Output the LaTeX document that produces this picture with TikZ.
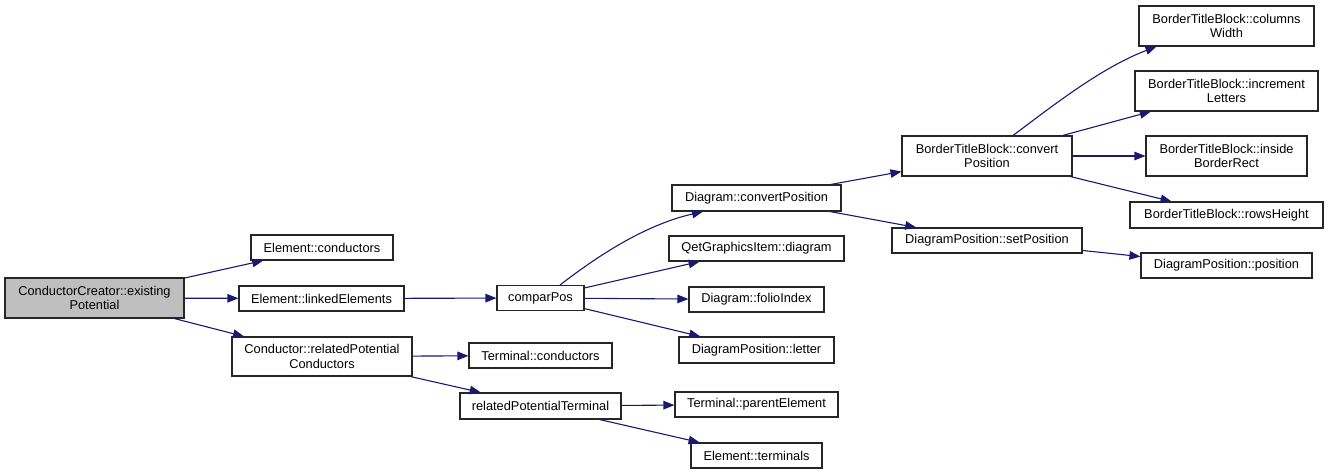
\documentclass[tikz,border=0pt]{standalone}
\usepackage{fontspec}
\setmainfont{Liberation Sans}
\usetikzlibrary{arrows.meta,calc}
\definecolor{edgeblue}{RGB}{25,25,112}
\definecolor{boxgray}{RGB}{191,191,191}
\begin{document}
\begin{tikzpicture}[x=1pt,y=-1pt,
  fn/.style={draw=black!85,line width=1.1pt,fill=white,inner sep=0pt,align=center,
    font=\fontsize{12.8}{14.3}\selectfont},
  root/.style={fill=boxgray},
  call/.style={draw=edgeblue,line width=1.1pt,-{Triangle[length=11pt,width=8.5pt]}}]
\useasboundingbox[fill=white] (0,0) rectangle (1328,474);
\newcommand\fnode[7][]{\node[fn,#1,minimum width=#5pt,minimum height=#6pt] (#2) at (#3,#4) {#7};}
\fnode[root]{cc}{94.5}{298}{179}{40}{ConductorCreator::existing\\Potential}
\fnode{ec}{322}{247.5}{142}{25}{Element::conductors}
\fnode{le}{321.5}{298.5}{165}{25}{Element::linkedElements}
\fnode{rpc}{322}{356.5}{180}{39}{Conductor::relatedPotential\\Conductors}
\fnode{cp}{540.5}{298}{87}{25}{comparPos}
\fnode{tc}{540.5}{355.5}{143}{25}{Terminal::conductors}
\fnode{rpt}{540.5}{406}{161}{26}{relatedPotentialTerminal}
\fnode{dcp}{756.5}{198}{169}{26}{Diagram::convertPosition}
\fnode{qgi}{756.5}{248.5}{175}{25}{QetGraphicsItem::diagram}
\fnode{fi}{756.5}{299.5}{135}{25}{Diagram::folioIndex}
\fnode{dpl}{756.5}{350}{155}{26}{DiagramPosition::letter}
\fnode{tpe}{756.5}{404.5}{163}{25}{Terminal::parentElement}
\fnode{et}{756.5}{455.5}{131}{25}{Element::terminals}
\fnode{bcp}{987}{156}{170}{40}{BorderTitleBlock::convert\\Position}
\fnode{dsp}{987}{240.5}{190}{25}{DiagramPosition::setPosition}
\fnode{bcw}{1226.5}{26}{175}{40}{BorderTitleBlock::columns\\Width}
\fnode{bil}{1226.5}{91}{183}{40}{BorderTitleBlock::increment\\Letters}
\fnode{bib}{1226.5}{156}{161}{40}{BorderTitleBlock::inside\\BorderRect}
\fnode{brh}{1226.5}{215}{193}{26}{BorderTitleBlock::rowsHeight}
\fnode{dpp}{1226.5}{265.5}{171}{25}{DiagramPosition::position}
\draw[call] (cc) -- (ec);
\draw[call] (cc) -- (le);
\draw[call] (cc) -- (rpc);
\draw[call] (le) -- (cp);
\draw[call] (rpc) -- (tc);
\draw[call] (rpc) -- (rpt);
\draw[call] ([xshift=19.5pt]cp.north) .. controls (590,262) and (640,226) .. ([xshift=-53.5pt]dcp.south);
\draw[call] (cp) -- (qgi);
\draw[call] (cp) -- (fi);
\draw[call] (cp) -- (dpl);
\draw[call] (rpt) -- (tpe);
\draw[call] (rpt) -- (et);
\draw[call] (dcp) -- (bcp);
\draw[call] (dcp) -- (dsp);
\draw[call] ([xshift=26pt]bcp.north) .. controls (1050,108) and (1100,68) .. ([xshift=-70pt]bcw.south);
\draw[call] (bcp) -- (bil);
\draw[call] (bcp) -- (bib);
\draw[call] (bcp) -- (brh);
\draw[call] (dsp) -- (dpp);
\end{tikzpicture}
\end{document}
